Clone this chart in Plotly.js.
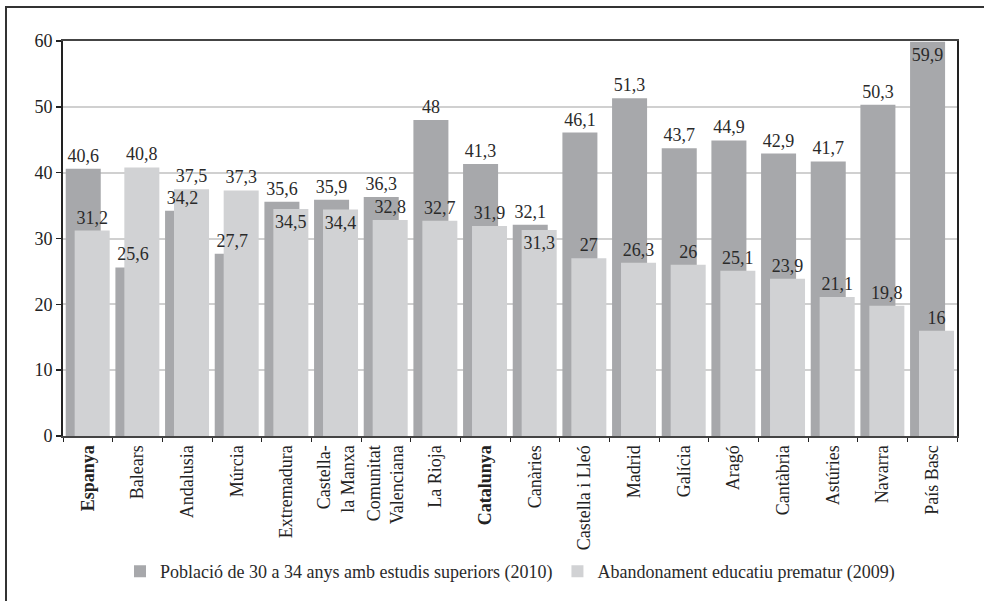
<!DOCTYPE html>
<html>
<head>
<meta charset="utf-8">
<script src="https://cdn.plot.ly/plotly-3.0.1.min.js"></script>
<style>
  html, body { margin: 0; padding: 0; background: #fff; }
  #wrap { position: relative; width: 984px; height: 601px; overflow: hidden; }
  #chart { position: absolute; left: 0; top: 0; width: 984px; height: 601px; }
  #bl { position: absolute; left: 5px; top: 6px; width: 2px; height: 595px; background: #333; }
  #bt { position: absolute; left: 5px; top: 6px; width: 979px; height: 2px; background: #333; }
</style>
</head>
<body>
<div id="wrap">
  <div id="chart"></div>
  <div id="bl"></div>
  <div id="bt"></div>
</div>
<script>
const categories = [
  "<b>Espanya</b>", "Balears", "Andalusia", "Múrcia", "Extremadura",
  "Castella-<br>la Manxa", "Comunitat<br>Valenciana", "La Rioja", "<b>Catalunya</b>",
  "Canàries", "Castella i Lleó", "Madrid", "Galícia", "Aragó", "Cantàbria",
  "Astúries", "Navarra", "País Basc"
];
const poblacio2010 = [40.6, 25.6, 34.2, 27.7, 35.6, 35.9, 36.3, 48, 41.3, 32.1, 46.1, 51.3, 43.7, 44.9, 42.9, 41.7, 50.3, 59.9];
const abandonament2009 = [31.2, 40.8, 37.5, 37.3, 34.5, 34.4, 32.8, 32.7, 31.9, 31.3, 27, 26.3, 26, 25.1, 23.9, 21.1, 19.8, 16];
const seriesNames = [
  "Població de 30 a 34 anys amb estudis superiors (2010)",
  "Abandonament educatiu prematur (2009)"
];

const darkColor = "#a7a8ab";
const lightColor = "#d1d2d4";
const fontFam = "Liberation Serif, Times New Roman, serif";
const FS = 18;
const fmt = v => String(v).replace(".", ",");

const W = 0.705, OFF_D = -0.445, OFF_L = -0.265;

const darkBars = {
  type: "bar", x: categories, y: poblacio2010, name: seriesNames[0],
  marker: { color: darkColor }, width: W, offset: OFF_D, hoverinfo: "skip"
};
const lightBars = {
  type: "bar", x: categories, y: abandonament2009, name: seriesNames[1],
  marker: { color: lightColor }, width: W, offset: OFF_L, hoverinfo: "skip"
};
const tf = { family: fontFam, size: FS, color: "#2a2a2a" };
const darkText = {
  type: "bar", x: categories, y: poblacio2010, showlegend: false,
  marker: { color: "rgba(0,0,0,0)" }, width: W, offset: OFF_D, hoverinfo: "skip",
  text: poblacio2010.map(fmt),
  textposition: poblacio2010.map(v => v > 58 ? "inside" : "outside"),
  insidetextanchor: "end", textangle: 0,
  textfont: tf, insidetextfont: tf, outsidetextfont: tf,
  constraintext: "none", cliponaxis: false
};
const lightText = {
  type: "bar", x: categories, y: abandonament2009, showlegend: false,
  marker: { color: "rgba(0,0,0,0)" }, width: W, offset: OFF_L, hoverinfo: "skip",
  text: abandonament2009.map(fmt),
  textposition: abandonament2009.map((v, i) => {
    const d = poblacio2010[i] - v;
    return (d > 0 && d < 2) ? "inside" : "outside";
  }),
  insidetextanchor: "end", textangle: 0,
  textfont: tf, insidetextfont: tf, outsidetextfont: tf,
  constraintext: "none", cliponaxis: false
};

const layout = {
  width: 984, height: 601,
  margin: { l: 63, r: 27, t: 41, b: 164 },
  paper_bgcolor: "#fff", plot_bgcolor: "#fff",
  barmode: "overlay",
  font: { family: fontFam, size: FS, color: "#222" },
  showlegend: true,
  legend: {
    orientation: "h", x: 0.5, xanchor: "center", y: -0.34, yanchor: "middle",
    font: { family: fontFam, size: FS, color: "#2a2a2a" },
    itemwidth: 30, tracegroupgap: 0
  },
  xaxis: {
    type: "category", tickangle: -90, tickson: "boundaries",
    ticks: "outside", ticklen: 4, tickcolor: "#222", tickwidth: 1,
    showline: true, linecolor: "#444", linewidth: 2, mirror: true,
    showgrid: false, range: [-0.5, 17.5],
    tickfont: { family: fontFam, size: FS, color: "#222" }
  },
  yaxis: {
    range: [0, 60], dtick: 10, tick0: 0,
    ticks: "outside", ticklen: 5, tickcolor: "#222", tickwidth: 1.5,
    showline: true, linecolor: "#222", linewidth: 2, mirror: true,
    showgrid: true, gridcolor: "#d0d0d0", gridwidth: 2, zeroline: false,
    tickfont: { family: fontFam, size: FS, color: "#222" }
  }
};

Plotly.newPlot("chart", [darkBars, lightBars, darkText, lightText], layout, { staticPlot: true, displayModeBar: false });
</script>
</body>
</html>
